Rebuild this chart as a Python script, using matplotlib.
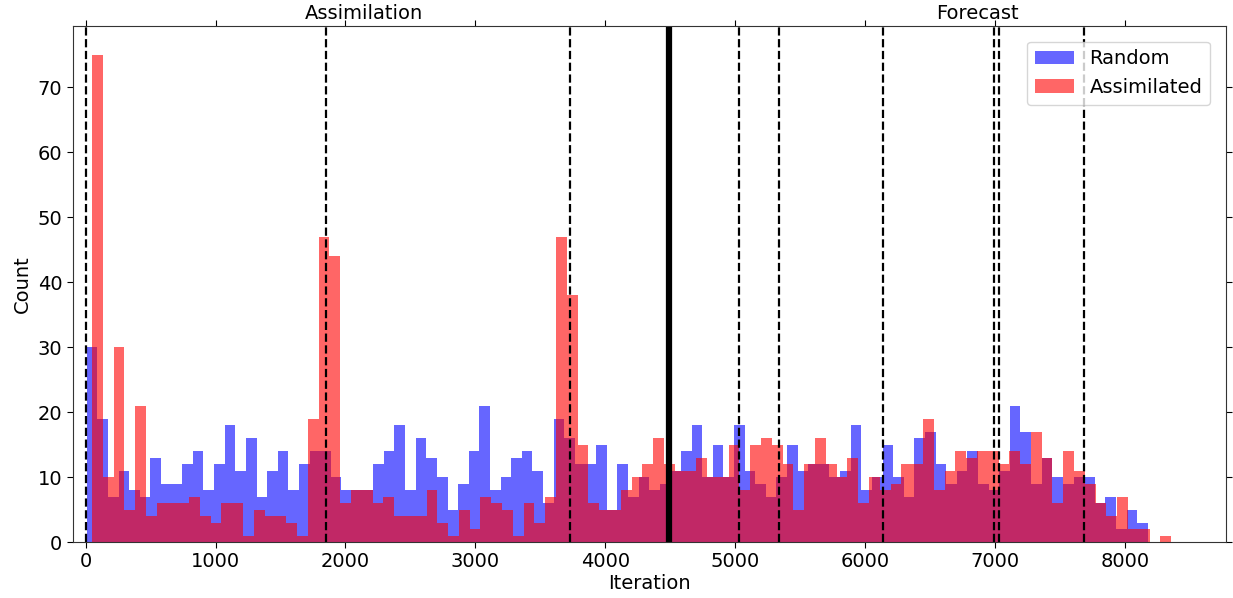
import numpy as np
import matplotlib
matplotlib.use("Agg")
import matplotlib.pyplot as plt

# ---- data ----
random_counts = [30, 19, 7, 11, 8, 7, 13, 9, 9, 12,
                 14, 8, 12, 18, 11, 16, 7, 11, 14, 8,
                 12, 14, 14, 10, 8, 8, 8, 12, 14, 18,
                 8, 16, 13, 10, 5, 9, 14, 21, 8, 10,
                 13, 14, 11, 6, 19, 16, 12, 12, 15, 5,
                 12, 7, 10, 8, 9, 11, 14, 18, 10, 15,
                 10, 18, 11, 9, 7, 10, 15, 11, 12, 12,
                 10, 11, 18, 8, 10, 15, 10, 7, 16, 17,
                 12, 9, 11, 14, 9, 8, 11, 21, 17, 9,
                 13, 10, 9, 10, 10, 6, 7, 2, 5, 3]
random_range = (8, 8178)

assim_counts = [75, 10, 30, 5, 21, 4, 6, 6, 6, 7,
                4, 3, 6, 6, 1, 5, 4, 4, 3, 1,
                19, 47, 44, 6, 8, 8, 6, 7, 4, 4,
                4, 8, 3, 1, 5, 2, 7, 6, 5, 1,
                6, 3, 7, 47, 38, 15, 6, 5, 5, 8,
                10, 12, 16, 12, 11, 11, 13, 10, 10, 15,
                8, 15, 16, 15, 12, 5, 12, 16, 12, 10,
                13, 6, 10, 8, 9, 12, 12, 19, 8, 11,
                14, 13, 14, 14, 12, 14, 12, 17, 13, 6,
                14, 11, 9, 6, 4, 7, 2, 2, 0, 1]
assim_range = (48, 8358)

dashed_lines = [0, 1852, 3728, 5027, 5335, 6140, 6990, 7033, 7683]
split_line = 4490
phase_labels = ["Assimilation", "Forecast"]
phase_label_x = [2140, 6865]
x_ticks = [0, 1000, 2000, 3000, 4000, 5000, 6000, 7000, 8000]
y_ticks = [0, 10, 20, 30, 40, 50, 60, 70]

# ---- figure ----
fig = plt.figure(figsize=(12.33, 5.98), dpi=100)
ax = fig.add_axes([0.059, 0.0936, 0.935, 0.863])

def draw_hist(counts, rng, color, label):
    edges = np.linspace(rng[0], rng[1], len(counts) + 1)
    centers = 0.5 * (edges[:-1] + edges[1:])
    ax.hist(centers, bins=edges, weights=counts, color=color, alpha=0.6,
            label=label)

draw_hist(random_counts, random_range, "b", "Random")
draw_hist(assim_counts, assim_range, "r", "Assimilated")

for xv in dashed_lines:
    ax.axvline(xv, color="k", linestyle="--", linewidth=1.6)
ax.axvline(split_line, color="k", linestyle="-", linewidth=4.5)

ax.set_xlim(-100, 8777)
ax.set_ylim(0, 79.4)
ax.set_xticks(x_ticks)
ax.set_yticks(y_ticks)
ax.tick_params(axis="both", labelsize=14, top=True, right=True,
               direction="out", length=4)
for s in ax.spines.values():
    s.set_color("#333333")
ax.set_xlabel("Iteration", fontsize=14, labelpad=2)
ax.set_ylabel("Count", fontsize=14)

for lab, xv in zip(phase_labels, phase_label_x):
    ax.text(xv, 1.025, lab, transform=ax.get_xaxis_transform(),
            ha="center", va="center", fontsize=14)

ax.legend(loc="upper right", fontsize=14, framealpha=0.8,
          edgecolor="#cccccc", borderaxespad=0.8)

fig.savefig("out.png", dpi=100)
